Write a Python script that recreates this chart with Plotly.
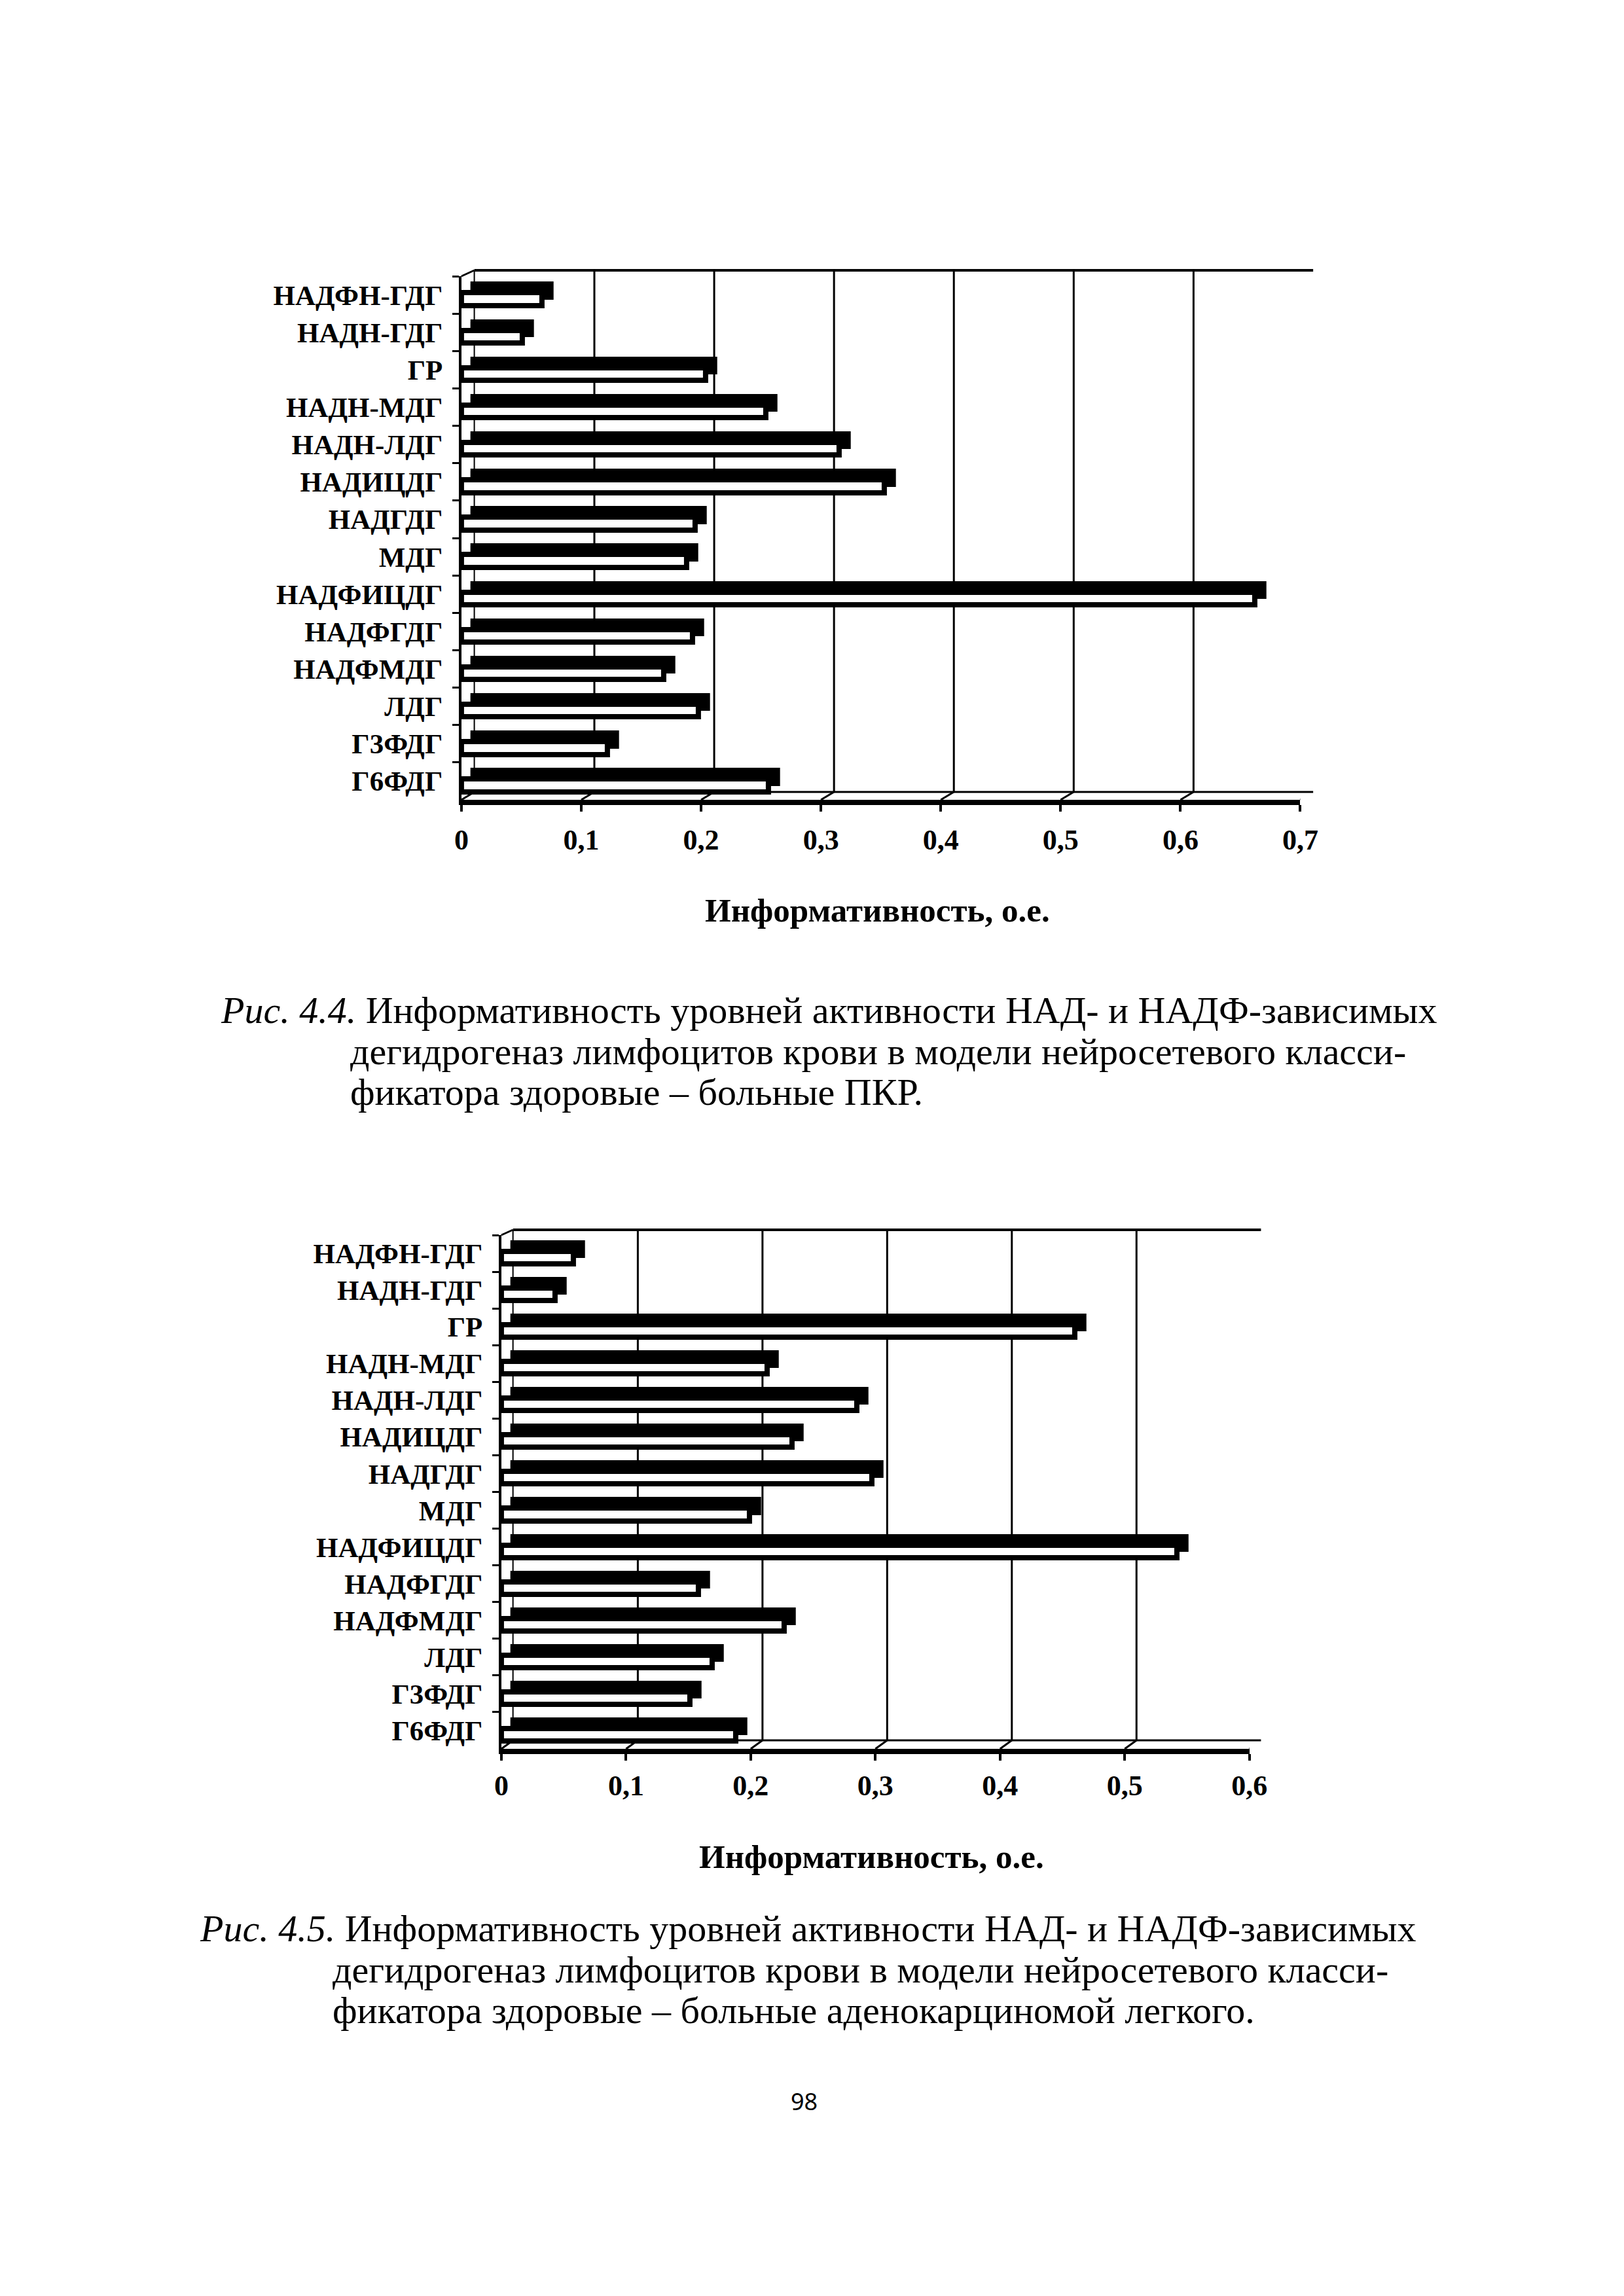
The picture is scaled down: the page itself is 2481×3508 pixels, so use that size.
import plotly.graph_objects as go

# ---------------- data ----------------
categories = ["НАДФН-ГДГ", "НАДН-ГДГ", "ГР", "НАДН-МДГ", "НАДН-ЛДГ", "НАДИЦДГ", "НАДГДГ",
              "МДГ", "НАДФИЦДГ", "НАДФГДГ", "НАДФМДГ", "ЛДГ", "Г3ФДГ", "Г6ФДГ"]
values_fig44 = [0.067, 0.051, 0.204, 0.254, 0.315, 0.353, 0.195,
                0.188, 0.662, 0.193, 0.169, 0.198, 0.122, 0.256]
values_fig45 = [0.058, 0.043, 0.460, 0.213, 0.285, 0.233, 0.297,
                0.199, 0.542, 0.158, 0.227, 0.169, 0.151, 0.188]
ticks_fig44 = [0, 0.1, 0.2, 0.3, 0.4, 0.5, 0.6, 0.7]
ticklabels_fig44 = ["0", "0,1", "0,2", "0,3", "0,4", "0,5", "0,6", "0,7"]
ticks_fig45 = [0, 0.1, 0.2, 0.3, 0.4, 0.5, 0.6]
ticklabels_fig45 = ["0", "0,1", "0,2", "0,3", "0,4", "0,5", "0,6"]
axis_title = "Информативность, о.е."
caption44 = ["<i>Рис. 4.4.</i> Информативность уровней активности НАД- и НАДФ-зависимых",
             "дегидрогеназ лимфоцитов крови в модели нейросетевого класси-",
             "фикатора здоровые – больные ПКР."]
caption45 = ["<i>Рис. 4.5.</i> Информативность уровней активности НАД- и НАДФ-зависимых",
             "дегидрогеназ лимфоцитов крови в модели нейросетевого класси-",
             "фикатора здоровые – больные аденокарциномой легкого."]
page_number = "98"

# ---------------- layout geometry (pixels) ----------------
W, H = 2481, 3508
SERIF = "Liberation Serif"


def px(x):
    return x / W


def py(y):
    return 1 - y / H


charts = [
    dict(vals=values_fig44, ticks=ticks_fig44, labels=ticklabels_fig44, caption=caption44,
         x0=705, x1=2007, ytop=422, ybot=1222, dx=20, dy=-12, ftop=413, standoff=5,
         title_x=1351, title_y=1391, cap_x1=329, cap_x2=530, cap_y=[1543, 1606, 1669],
         back=("x", "y"), front=("x3", "y3")),
    dict(vals=values_fig45, ticks=ticks_fig45, labels=ticklabels_fig45, caption=caption45,
         x0=767, x1=1928, ytop=1887, ybot=2672, dx=18, dy=-13, ftop=1879, standoff=0,
         title_x=1342, title_y=2837, cap_x1=297, cap_x2=503, cap_y=[2946, 3009, 3071],
         back=("x2", "y2"), front=("x4", "y4")),
]

BAR_DX, BAR_DY = 14, 13     # depth of the 3-D bars (pixels)
FACE_W, FACE_OFF = 0.34, -0.055
EDGE = 8

fig = go.Figure()
shapes = []
annotations = []
layout_axes = {}


def axname(a):
    return a[0] + "axis" + a[1:]


# back (depth) bars first, then front faces
for c in charts:
    bx, by = c["back"]
    fig.add_trace(go.Bar(
        y=categories, x=c["vals"], orientation="h", xaxis=bx, yaxis=by,
        width=FACE_W, offset=FACE_OFF,
        marker=dict(color="black", line=dict(color="black", width=EDGE)),
        showlegend=False, hoverinfo="skip"))
for c in charts:
    fx, fy = c["front"]
    fig.add_trace(go.Bar(
        y=categories, x=c["vals"], orientation="h", xaxis=fx, yaxis=fy,
        width=FACE_W, offset=FACE_OFF,
        marker=dict(color="white", line=dict(color="black", width=EDGE)),
        showlegend=False, hoverinfo="text",
        hovertext=[f"{k}: {v}" for k, v in zip(categories, c["vals"])]))

for c in charts:
    xmax = c["ticks"][-1]
    bx, by = c["back"]
    fx, fy = c["front"]
    # hidden axes for the depth bars (shifted right and up)
    layout_axes[axname(bx)] = dict(
        domain=[px(c["x0"] + BAR_DX), px(c["x1"] + BAR_DX)], range=[0, xmax], anchor=by,
        visible=False, fixedrange=True)
    layout_axes[axname(by)] = dict(
        domain=[py(c["ybot"] - BAR_DY), py(c["ytop"] - BAR_DY)], anchor=bx,
        type="category", categoryorder="array", categoryarray=categories,
        autorange="reversed", visible=False, fixedrange=True)
    # visible front axes
    layout_axes[axname(fx)] = dict(
        domain=[px(c["x0"]), px(c["x1"])], range=[0, xmax], anchor=fy,
        showgrid=False, zeroline=False, showline=True, linecolor="black", linewidth=8,
        ticks="outside", ticklen=10, tickwidth=4, tickcolor="black",
        tickvals=c["ticks"], ticktext=c["labels"], ticklabelstandoff=c["standoff"],
        tickfont=dict(family=SERIF, size=44, color="black", weight="bold"),
        fixedrange=True)
    layout_axes[axname(fy)] = dict(
        domain=[py(c["ybot"]), py(c["ytop"])], anchor=fx,
        type="category", categoryorder="array", categoryarray=categories,
        autorange="reversed", showgrid=False, zeroline=False,
        showline=True, linecolor="black", linewidth=4,
        ticks="outside", ticklen=10, tickwidth=3, tickcolor="black", tickson="boundaries",
        ticklabelstandoff=16,
        tickfont=dict(family=SERIF, size=43, color="black", weight="bold"),
        fixedrange=True)

    dx, dy = c["dx"], c["dy"]
    yback = c["ybot"] + dy
    # back-wall gridlines and right frame (positioned by data value, shifted by depth)
    for v in c["ticks"][1:]:
        shapes.append(dict(type="line", xref=fx, xsizemode="pixel", xanchor=v,
                           x0=dx, x1=dx, yref="paper", y0=py(c["ftop"]), y1=py(yback),
                           line=dict(color="black", width=4 if v == xmax else 3), layer="below"))
    # floor diagonals at each tick
    for v in c["ticks"]:
        shapes.append(dict(type="line", xref=fx, xsizemode="pixel", xanchor=v,
                           x0=0, x1=dx, yref="paper", y0=py(c["ybot"]), y1=py(yback),
                           line=dict(color="black", width=3), layer="below"))
    # top frame
    shapes.append(dict(type="line", xref="paper", yref="paper",
                       x0=px(c["x0"] + dx), x1=px(c["x1"] + dx), y0=py(c["ftop"]), y1=py(c["ftop"]),
                       line=dict(color="black", width=4), layer="below"))
    # back-left vertical
    shapes.append(dict(type="line", xref="paper", yref="paper",
                       x0=px(c["x0"] + dx), x1=px(c["x0"] + dx), y0=py(c["ftop"]), y1=py(yback),
                       line=dict(color="black", width=2), layer="below"))
    # top-left diagonal
    shapes.append(dict(type="line", xref="paper", yref="paper",
                       x0=px(c["x0"]), x1=px(c["x0"] + dx), y0=py(c["ytop"]), y1=py(c["ftop"]),
                       line=dict(color="black", width=3), layer="below"))
    # floor back line
    shapes.append(dict(type="line", xref="paper", yref="paper",
                       x0=px(c["x0"] + dx), x1=px(c["x1"] + dx), y0=py(yback), y1=py(yback),
                       line=dict(color="black", width=3), layer="below"))

    # axis title
    annotations.append(dict(text=f"<b>{axis_title}</b>", xref="paper", yref="paper",
                            x=px(c["title_x"]), y=py(c["title_y"]), xanchor="center", yanchor="middle",
                            showarrow=False, font=dict(family=SERIF, size=51, color="black")))
    # caption
    for j, line in enumerate(c["caption"]):
        annotations.append(dict(text=line, xref="paper", yref="paper",
                                x=px(c["cap_x1"] if j == 0 else c["cap_x2"]), y=py(c["cap_y"][j]),
                                xanchor="left", yanchor="middle", showarrow=False,
                                font=dict(family=SERIF, size=58, color="black")))

annotations.append(dict(text=page_number, xref="paper", yref="paper",
                        x=px(1237), y=py(3210), xanchor="center", yanchor="middle",
                        showarrow=False, font=dict(family="Noto Sans", size=36, color="black")))

fig.update_layout(
    width=W, height=H, margin=dict(l=0, r=0, t=0, b=0),
    paper_bgcolor="white", plot_bgcolor="rgba(0,0,0,0)",
    barmode="overlay", bargap=0,
    shapes=shapes, annotations=annotations, showlegend=False,
    **layout_axes)

fig.write_html("out.html")
